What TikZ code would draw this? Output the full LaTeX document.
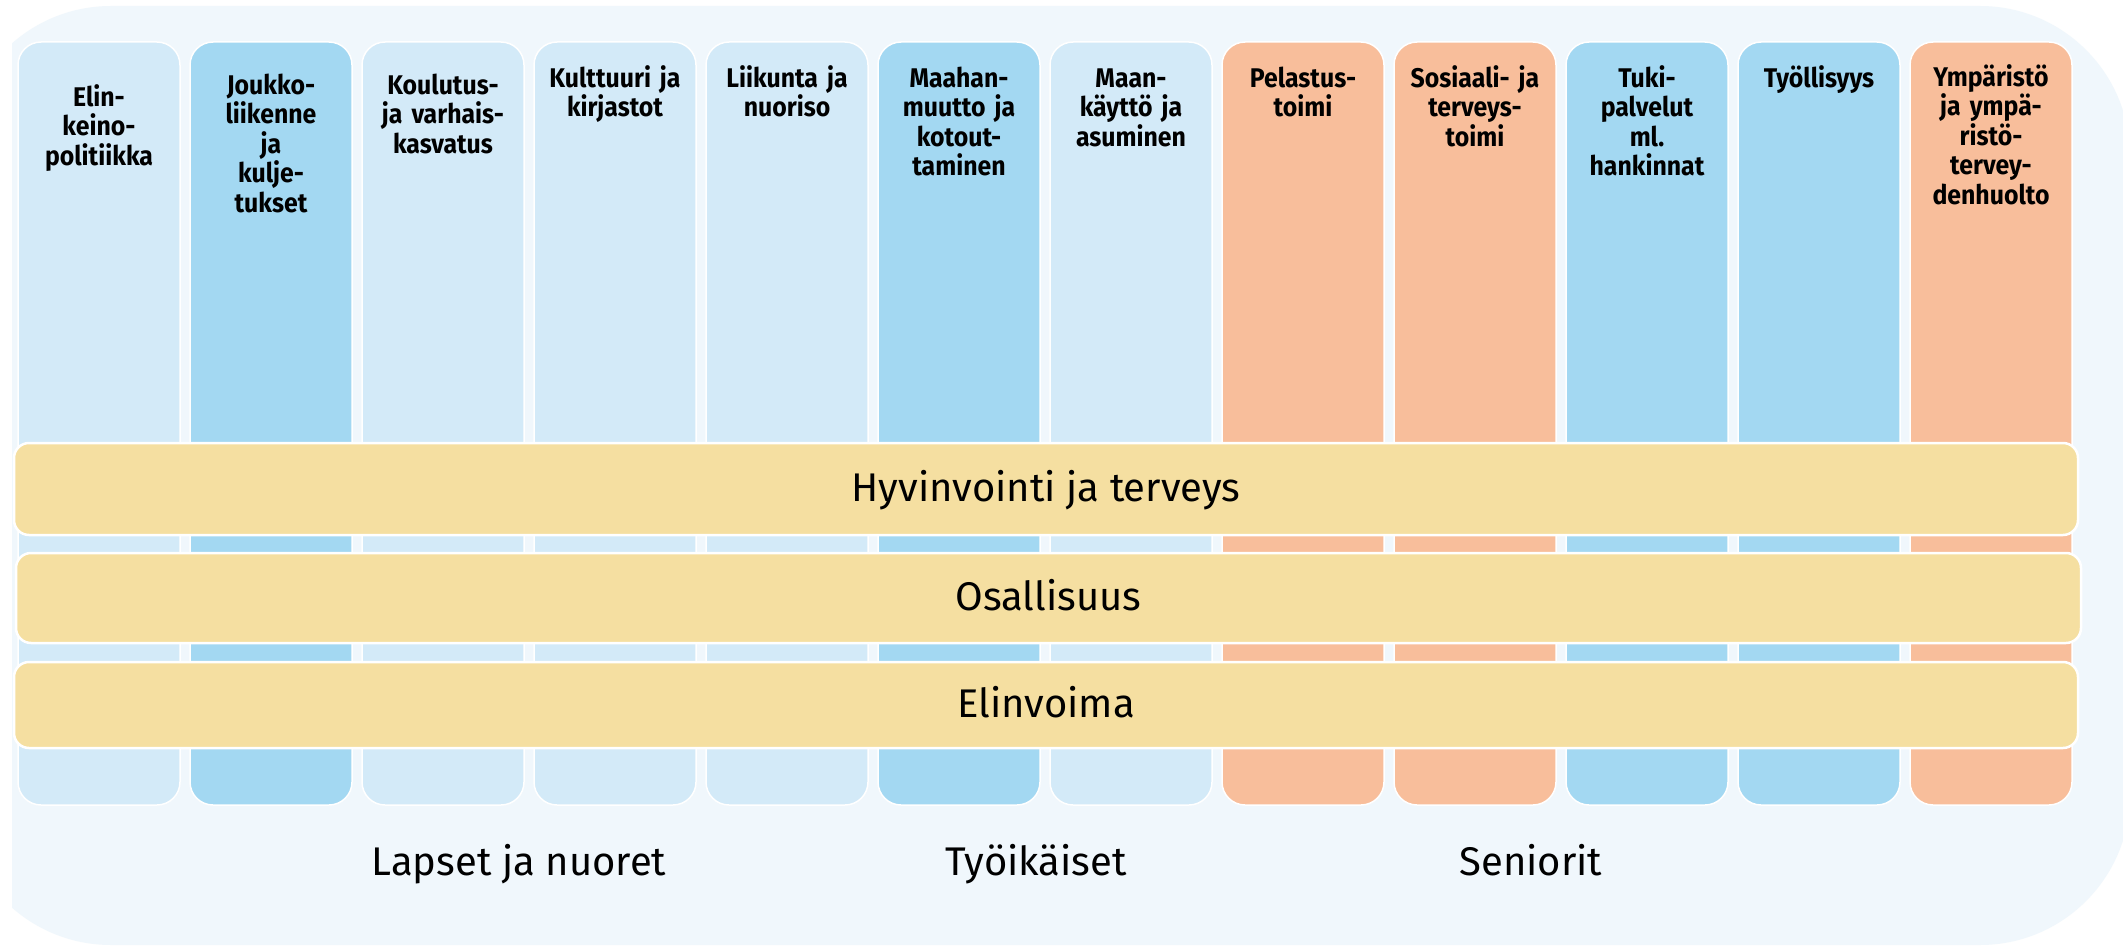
\documentclass[tikz,border=0pt]{standalone}
\usepackage{fontspec}
\setmainfont{Fira Sans}
\newfontfamily\headfont{Fira Sans}[FakeStretch=0.92]
\usepackage{tikz}
\definecolor{bgblue}{HTML}{F0F7FC}
\definecolor{paleblue}{HTML}{D3EAF8}
\definecolor{skyblue}{HTML}{A3D8F2}
\definecolor{salmon}{HTML}{F8BE9B}
\definecolor{sand}{HTML}{F5DFA1}
\tikzset{
	column/.style={rounded corners=23pt,draw=white,line width=1.5pt,minimum width=162pt,minimum height=763pt,inner sep=0pt},
	head/.style={text width=160pt,align=center,inner sep=0pt,anchor=base,font=\headfont\bfseries\fontsize{27}{29.5}\selectfont},
	band/.style={rounded corners=15pt,draw=white,line width=2.5pt,fill=sand,inner sep=0pt,text height=25pt,text depth=0pt,font=\fontsize{40}{48}\selectfont},
	group/.style={inner sep=0pt,anchor=base,font=\fontsize{40}{48}\selectfont}
}

\begin{document}
\begin{tikzpicture}[x=1pt,y=-1pt]
					\def\cy{423.5};
					\def\hs{-65pt};
					\useasboundingbox (0,0) rectangle (2123,947);
					\fill[white] (0,0) rectangle (2123,947);
					\begin{scope}
						\clip (12,0) rectangle (2123,947);
						\fill[bgblue,rounded corners=150pt] (-39,6) rectangle (2130,945);
					\end{scope}
					% sectors
					\node[column,fill=paleblue] (c1) at (99,\cy) {};
					\node[column,fill=skyblue] (c2) at (271,\cy) {};
					\node[column,fill=paleblue] (c3) at (443,\cy) {};
					\node[column,fill=paleblue] (c4) at (615,\cy) {};
					\node[column,fill=paleblue] (c5) at (787,\cy) {};
					\node[column,fill=skyblue] (c6) at (959,\cy) {};
					\node[column,fill=paleblue] (c7) at (1131,\cy) {};
					\node[column,fill=salmon] (c8) at (1303,\cy) {};
					\node[column,fill=salmon] (c9) at (1475,\cy) {};
					\node[column,fill=skyblue] (c10) at (1647,\cy) {};
					\node[column,fill=skyblue] (c11) at (1819,\cy) {};
					\node[column,fill=salmon] (c12) at (1991,\cy) {};
					\node[head] (h1) at ([yshift=-65pt]c1.north) {Elin-\\keino-\\politiikka};
					\node[head] (h2) at ([yshift=-53pt]c2.north) {Joukko-\\liikenne\\ja\\kulje-\\tukset};
					\node[head] (h3) at ([yshift=-53pt]c3.north) {Koulutus-\\ja varhais-\\kasvatus};
					\node[head] (h4) at ([yshift=\hs+19pt]c4.north) {Kulttuuri ja\\kirjastot};
					\node[head] (h5) at ([yshift=\hs+19pt]c5.north) {Liikunta ja\\nuoriso};
					\node[head] (h6) at ([yshift=\hs+19pt]c6.north) {Maahan-\\muutto ja\\kotout-\\taminen};
					\node[head] (h7) at ([yshift=\hs+19pt]c7.north) {Maan-\\käyttö ja\\asuminen};
					\node[head] (h8) at ([yshift=\hs+19pt]c8.north) {Pelastus-\\toimi};
					\node[head] (h9) at ([yshift=\hs+19pt]c9.north) {Sosiaali- ja\\terveys-\\toimi};
					\node[head] (h10) at ([yshift=\hs+19pt]c10.north) {Tuki-\\palvelut\\ml.\\hankinnat};
					\node[head] (h11) at ([yshift=\hs+19pt]c11.north) {Työllisyys};
					\node[head] (h12) at ([yshift=\hs+20pt]c12.north) {Ympäristö\\ja ympä-\\ristö-\\tervey-\\denhuolto};
					% cross-cutting themes
					\node[band,minimum width=2064pt,minimum height=92pt] (hyv) at (1046,489) {Hyvinvointi ja terveys};
					\node[band,minimum width=2065pt,minimum height=90pt] (osa) at (1048.5,598) {Osallisuus};
					\node[band,minimum width=2064pt,minimum height=86pt] (eli) at (1046,705) {Elinvoima};
					% age groups
					\node[group] (lap) at (519,875) {Lapset ja nuoret};
					\node[group] (tyo) at (1036,875) {Työikäiset};
					\node[group] (sen) at (1531,875) {Seniorit};
				\end{tikzpicture}
\end{document}
